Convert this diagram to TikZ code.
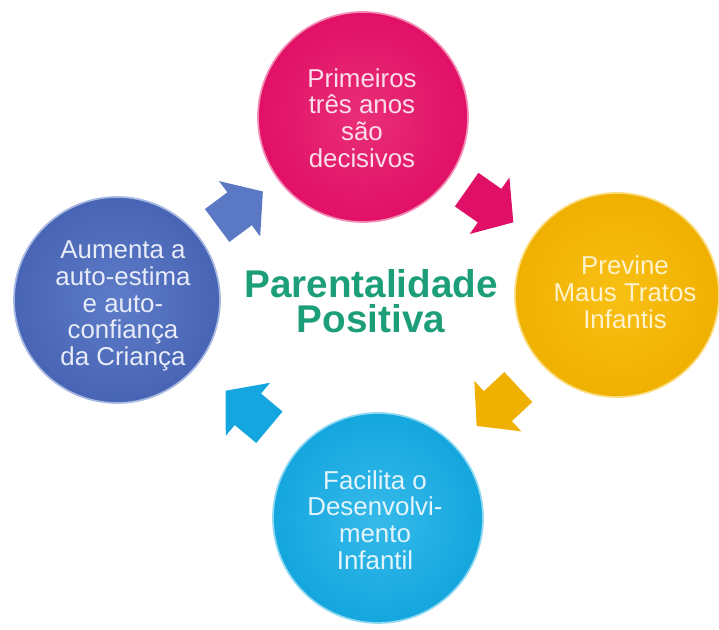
\documentclass[tikz,border=0pt]{standalone}
\usepackage{fontspec}
\setmainfont{Liberation Sans}
\usetikzlibrary{calc}
\definecolor{pinkc}{RGB}{224,16,102}
\definecolor{pinkl}{RGB}{234,46,120}
\definecolor{pinkt}{RGB}{250,222,234}
\definecolor{orangec}{RGB}{240,176,0}
\definecolor{orangel}{RGB}{248,192,20}
\definecolor{oranget}{RGB}{255,242,205}
\definecolor{cyanc}{RGB}{20,166,222}
\definecolor{cyanl}{RGB}{54,186,234}
\definecolor{cyant}{RGB}{228,244,252}
\definecolor{bluec}{RGB}{72,100,180}
\definecolor{bluel}{RGB}{94,124,200}
\definecolor{bluet}{RGB}{232,236,248}
\definecolor{centergreen}{RGB}{28,158,120}
\newcommand\cycarrow[3]{%
  \fill[#3] let \p1=($(#2)-(#1)$), \n1={atan2(\y1,\x1)}, \n2={\n1+90},
    \p2=($(#1)!0.5!(#2)$) in
    ($(\p2)+(\n1:-28.5)+(\n2:20.5)$) --
    ($(\p2)+(\n1:-0.5)+(\n2:20.5)$) --
    ($(\p2)+(\n1:-0.5)+(\n2:34.5)$) --
    ($(\p2)+(\n1:28.5)$) --
    ($(\p2)+(\n1:-0.5)+(\n2:-34.5)$) --
    ($(\p2)+(\n1:-0.5)+(\n2:-20.5)$) --
    ($(\p2)+(\n1:-28.5)+(\n2:-20.5)$) -- cycle;}
\tikzset{
  bubble/.style={circle, inner sep=0pt, shading=radial, inner color=#1l,
    outer color=#1c, draw=#1l!55!white, line width=1.3pt},
  ctext/.style={align=center, inner sep=0pt,
    font=\fontsize{19.4}{20.1}\selectfont, text=#1},
  title/.style={align=center, inner sep=0pt,
    font=\fontsize{29}{26.5}\selectfont\bfseries, text=centergreen}
}
\begin{document}
\begin{tikzpicture}[x=0.75pt, y=0.75pt]
\useasboundingbox (0,0) rectangle (719,630);
\fill[white] (0,0) rectangle (719,630);
% circles
\node[bubble=pink, minimum size=157.5pt] (top) at (363,513) {};
\node[bubble=orange, minimum size=153pt] (right) at (617,335) {};
\node[bubble=cyan, minimum size=157.5pt] (bottom) at (378,112) {};
\node[bubble=blue, minimum size=154.5pt] (left) at (117,330) {};
% texts
\node[ctext=pinkt] (ttop) at ($(top)+(-1,-1)$) {Primeiros\\três anos\\são\\decisivos};
\node[ctext=oranget] (tright) at ($(right)+(8,2.5)$) {Previne\\Maus Tratos\\Infantis};
\node[ctext=cyant] (tbottom) at ($(bottom)+(-3,-2)$) {Facilita o\\Desenvolvi-\\mento\\Infantil};
\node[ctext=bluet] (tleft) at ($(left)+(6,-6)$) {Aumenta a\\auto-estima\\e auto-\\confiança\\da Criança};
\node[title] (center) at (371,329) {Parentalidade\\Positiva};
% arrows
\cycarrow{left}{top}{bluel!85!bluec}
\cycarrow{top}{right}{pinkc}
\cycarrow{right}{bottom}{orangec}
\cycarrow{bottom}{left}{cyanc}
\end{tikzpicture}
\end{document}
